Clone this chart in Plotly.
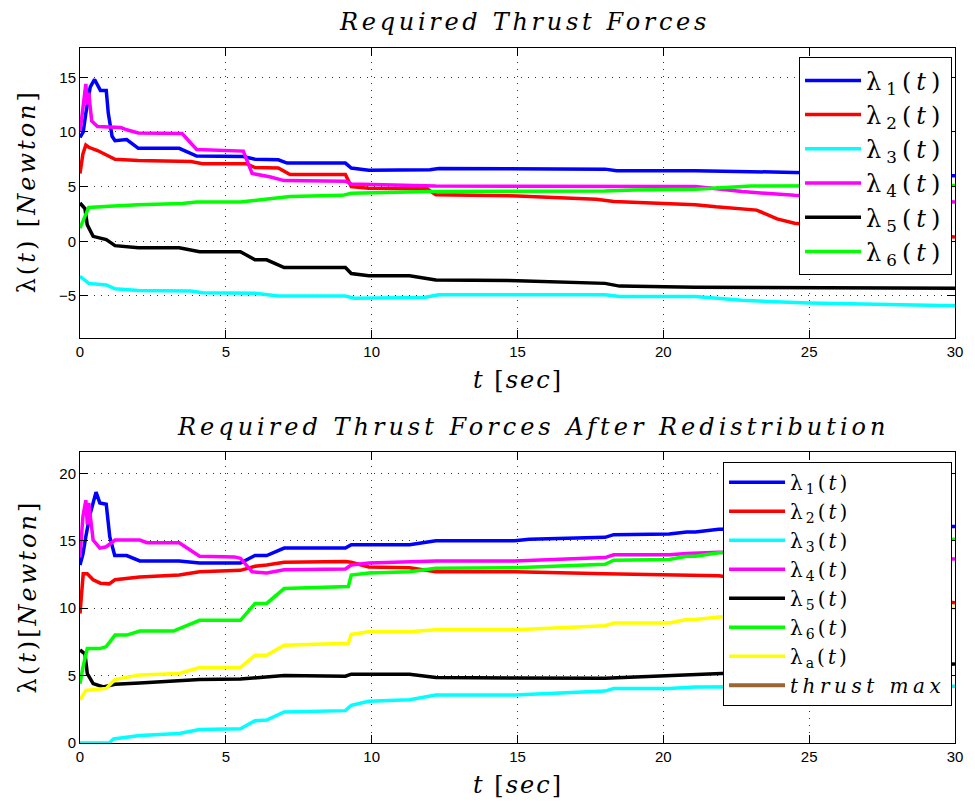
import plotly.graph_objects as go

# ---------------- data: top panel (Required Thrust Forces) ----------------
T1 = [0, 0.11, 0.2, 0.35, 0.5, 0.6, 0.7, 0.9, 0.97, 1.1, 1.2, 1.6, 2.0, 3.4, 4.0, 5.6, 6.0, 6.8, 7.1, 9.1, 9.3, 9.9, 12.0, 12.3, 18.0, 18.4, 21.1, 24.5, 30]
V1 = [9.5, 10.0, 11.7, 14.1, 14.8, 14.3, 13.8, 13.8, 11.7, 9.6, 9.2, 9.3, 8.5, 8.5, 7.8, 7.75, 7.5, 7.45, 7.15, 7.15, 6.7, 6.5, 6.55, 6.65, 6.6, 6.45, 6.45, 6.3, 6.0]

T2 = [0, 0.1, 0.2, 0.3, 0.6, 0.9, 1.2, 2.0, 3.8, 4.2, 5.7, 6.0, 6.8, 7.2, 9.1, 9.3, 9.9, 11.9, 12.2, 15.0, 17.7, 18.3, 20.2, 21.1, 21.8, 23.2, 23.9, 24.5, 27, 30]
V2 = [6.2, 8.0, 8.8, 8.6, 8.3, 7.9, 7.5, 7.4, 7.3, 7.1, 7.1, 6.75, 6.7, 6.1, 6.1, 5.0, 4.85, 4.8, 4.25, 4.15, 3.85, 3.65, 3.45, 3.35, 3.15, 2.85, 2.05, 1.65, 1.0, 0.4]

T3 = [0, 0.3, 0.9, 1.2, 2.0, 3.8, 4.2, 6.0, 6.8, 9.1, 9.4, 11.8, 12.3, 18.0, 18.5, 21.1, 22.7, 25.0, 30]
V3 = [-3.2, -3.85, -4.0, -4.35, -4.5, -4.55, -4.7, -4.75, -5.0, -5.0, -5.2, -5.15, -4.9, -4.9, -5.05, -5.05, -5.4, -5.65, -5.9]

T4 = [0, 0.08, 0.15, 0.2, 0.25, 0.3, 0.4, 0.6, 1.4, 1.6, 2.0, 3.5, 4.0, 5.6, 5.9, 6.5, 7.0, 9.1, 9.3, 12.2, 21.1, 22.7, 24.5, 30]
V4 = [10.0, 12.0, 13.5, 14.4, 12.5, 13.6, 11.0, 10.5, 10.4, 10.2, 9.9, 9.85, 8.4, 8.25, 6.2, 5.9, 5.55, 5.5, 5.25, 5.05, 5.0, 4.55, 4.2, 3.6]

T5 = [0, 0.17, 0.25, 0.45, 0.9, 1.2, 2.0, 3.4, 4.1, 5.5, 6.0, 6.4, 7.0, 9.1, 9.3, 9.9, 11.3, 12.2, 15.0, 18.0, 18.5, 21.1, 30]
V5 = [3.5, 3.0, 1.5, 0.45, 0.15, -0.4, -0.6, -0.6, -0.95, -0.95, -1.7, -1.7, -2.4, -2.4, -2.95, -3.15, -3.15, -3.55, -3.6, -3.85, -4.1, -4.2, -4.3]

T6 = [0, 0.3, 1.0, 2.0, 3.5, 4.0, 5.5, 6.5, 7.2, 9.0, 9.3, 12.0, 18.0, 19.0, 21.1, 23.0, 30]
V6 = [1.2, 3.1, 3.2, 3.35, 3.45, 3.6, 3.6, 3.9, 4.1, 4.2, 4.4, 4.55, 4.6, 4.7, 4.75, 5.05, 5.1]

# ---------------- data: bottom panel (After Redistribution) ----------------
B1t = [0, 0.1, 0.2, 0.35, 0.55, 0.68, 0.9, 1.02, 1.19, 1.6, 2.05, 3.4, 4.1, 5.5, 6.0, 6.4, 7.0, 9.1, 9.3, 11.3, 12.2, 14.9, 15.4, 18.0, 18.3, 20.2, 20.8, 21.1, 21.9, 30]
B1v = [13.2, 14.0, 15.3, 17.0, 18.6, 17.8, 17.7, 15.3, 13.9, 13.9, 13.5, 13.5, 13.35, 13.35, 13.9, 13.9, 14.45, 14.45, 14.7, 14.7, 15.0, 15.0, 15.1, 15.25, 15.45, 15.5, 15.65, 15.65, 15.85, 16.05]

B2t = [0, 0.11, 0.25, 0.45, 0.7, 1.0, 1.2, 2.05, 3.4, 4.1, 5.5, 6.0, 6.4, 7.0, 9.1, 9.3, 9.9, 11.3, 12.2, 14.9, 18.0, 20.2, 21.1, 21.9, 25.0, 30]
B2v = [9.6, 12.55, 12.55, 12.1, 11.85, 11.8, 12.1, 12.3, 12.45, 12.7, 12.8, 13.1, 13.2, 13.4, 13.45, 13.4, 13.05, 13.0, 12.7, 12.7, 12.55, 12.5, 12.45, 12.4, 11.5, 10.4]

B3t = [0, 1.0, 1.15, 2.05, 3.4, 4.1, 5.5, 6.0, 6.4, 7.0, 9.1, 9.3, 9.9, 11.3, 12.2, 14.9, 18.0, 18.3, 20.2, 20.8, 21.1, 30]
B3v = [0, 0, 0.3, 0.55, 0.7, 1.0, 1.05, 1.65, 1.7, 2.3, 2.4, 2.8, 3.1, 3.2, 3.55, 3.55, 3.85, 4.05, 4.05, 4.15, 4.15, 4.2]

B4t = [0, 0.1, 0.2, 0.25, 0.3, 0.45, 0.68, 0.9, 1.2, 2.05, 2.3, 3.4, 4.1, 5.3, 5.5, 5.9, 6.4, 7.0, 9.1, 9.3, 9.9, 11.3, 12.2, 14.9, 18.0, 18.3, 20.2, 20.8, 21.9, 30]
B4v = [13.8, 16.8, 18.0, 16.2, 17.8, 15.05, 14.45, 14.55, 15.05, 15.05, 14.85, 14.85, 13.85, 13.8, 13.7, 12.7, 12.6, 12.85, 12.9, 13.2, 13.35, 13.45, 13.5, 13.5, 13.75, 13.95, 13.95, 14.05, 14.15, 13.65]

B5t = [0, 0.17, 0.25, 0.45, 0.8, 1.2, 2.05, 3.4, 4.1, 5.5, 6.0, 7.0, 9.1, 9.3, 11.3, 12.2, 18.0, 20.2, 21.1, 21.9, 30]
B5v = [6.9, 6.6, 5.15, 4.4, 4.15, 4.35, 4.45, 4.6, 4.7, 4.75, 4.85, 5.0, 4.95, 5.1, 5.1, 4.85, 4.8, 5.0, 5.05, 5.15, 5.85]

B6t = [0, 0.1, 0.25, 0.68, 0.9, 1.2, 1.6, 2.05, 3.2, 4.1, 5.5, 6.0, 6.4, 7.0, 9.2, 9.3, 9.9, 11.3, 12.2, 14.9, 18.0, 18.3, 20.2, 20.8, 21.1, 21.9, 30]
B6v = [4.4, 5.6, 7.0, 7.0, 7.15, 8.0, 8.0, 8.3, 8.3, 9.1, 9.1, 10.35, 10.35, 11.45, 11.6, 12.45, 12.6, 12.7, 12.95, 13.0, 13.25, 13.55, 13.6, 13.85, 13.85, 14.1, 15.1]

B7t = [0, 0.2, 0.9, 1.2, 2.05, 3.4, 4.1, 5.5, 6.0, 6.4, 7.0, 9.2, 9.3, 9.9, 11.3, 12.2, 14.9, 18.0, 18.3, 20.2, 20.8, 21.1, 21.9, 30]
B7v = [3.2, 3.9, 4.05, 4.7, 5.05, 5.15, 5.6, 5.6, 6.5, 6.5, 7.25, 7.4, 8.05, 8.25, 8.25, 8.4, 8.4, 8.7, 8.9, 8.9, 9.15, 9.15, 9.35, 10.0]

TMAXt = [0, 30]
TMAXv = [25, 25]

x_ticks = [0, 5, 10, 15, 20, 25, 30]
top_yticks = [-5, 0, 5, 10, 15]
bot_yticks = [0, 5, 10, 15, 20]

names = ["1", "2", "3", "4", "5", "6", "a"]
colors = ["#0000ff", "#ff0000", "#00ffff", "#ff00ff", "#000000", "#00ff00", "#ffff00"]
brown = "#996633"

SERIF = "DejaVu Serif"
SANS = "Liberation Sans"


def sp(inner, ls):
    return f'<span style="letter-spacing:{ls}px">{inner}</span>'


def lam(s, ls):
    return sp(f'λ<sub>{s}</sub>(<i>t</i>)', ls)


fig = go.Figure()

top_series = [(T1, V1), (T2, V2), (T3, V3), (T4, V4), (T5, V5), (T6, V6)]
for i, (t, v) in enumerate(top_series):
    fig.add_trace(go.Scatter(x=t, y=v, mode="lines", xaxis="x", yaxis="y",
                             line=dict(color=colors[i], width=3.5),
                             name=lam(names[i], 5), legend="legend"))

bot_series = [(B1t, B1v), (B2t, B2v), (B3t, B3v), (B4t, B4v), (B5t, B5v), (B6t, B6v), (B7t, B7v)]
for i, (t, v) in enumerate(bot_series):
    fig.add_trace(go.Scatter(x=t, y=v, mode="lines", xaxis="x2", yaxis="y2",
                             line=dict(color=colors[i], width=3.5),
                             name=lam(names[i], 3), legend="legend2"))
fig.add_trace(go.Scatter(x=TMAXt, y=TMAXv, mode="lines", xaxis="x2", yaxis="y2",
                         line=dict(color=brown, width=4),
                         name=sp('<i>thrust max</i>', 4.5),
                         legend="legend2"))

axis_common = dict(showline=True, linecolor="black", linewidth=1, mirror="allticks",
                   ticks="inside", ticklen=8, tickcolor="black", tickwidth=1,
                   showgrid=True, gridcolor="#333333", gridwidth=1, griddash="1px,6px",
                   zeroline=False, tickfont=dict(family=SANS, size=15, color="black"))

fig.update_layout(
    width=975, height=809,
    margin=dict(l=80, r=14, t=48, b=66),
    paper_bgcolor="white", plot_bgcolor="white",
    font=dict(family=SERIF),
    xaxis=dict(domain=[0, 1], anchor="y", range=[0, 30], tickvals=x_ticks, **axis_common),
    yaxis=dict(domain=[0.583, 1.0], anchor="x", range=[-8.83, 17.68], tickvals=top_yticks, **axis_common),
    xaxis2=dict(domain=[0, 1], anchor="y2", range=[0, 30], tickvals=x_ticks, **axis_common),
    yaxis2=dict(domain=[0, 0.418], anchor="x2", range=[0, 21.54], tickvals=bot_yticks, **axis_common),
    legend=dict(x=0.9966, y=0.9866, xanchor="right", yanchor="top",
                bgcolor="white", bordercolor="black", borderwidth=1,
                font=dict(family=SERIF, size=24, color="black"), itemwidth=56,
                tracegroupgap=0),
    legend2=dict(x=0.9966, y=0.4047, xanchor="right", yanchor="top",
                 bgcolor="white", bordercolor="black", borderwidth=1,
                 font=dict(family=SERIF, size=20, color="black"), itemwidth=56,
                 tracegroupgap=0),
    showlegend=True,
)

ann_font = dict(family=SERIF, size=24, color="black")
annots = [
    dict(text=sp('<i>Required Thrust Forces</i>', 3.7),
         x=0.508, y=1.0374, xanchor="center", yanchor="middle"),
    dict(text=sp('<i>Required Thrust Forces After Redistribution</i>', 4),
         x=0.5176, y=0.4547, xanchor="center", yanchor="middle"),
    dict(text=sp('<i>t</i> [<i>sec</i>]', 2),
         x=0.5, y=0.5223, xanchor="center", yanchor="middle"),
    dict(text=sp('<i>t</i> [<i>sec</i>]', 2),
         x=0.5, y=-0.0604, xanchor="center", yanchor="middle"),
    dict(text=sp('λ(<i>t</i>) [<i>Newton</i>]', 3),
         x=-0.0602, y=0.7942, xanchor="center", yanchor="middle", textangle=-90),
    dict(text=sp('λ(<i>t</i>)[<i>Newton</i>]', 3),
         x=-0.059, y=0.2115, xanchor="center", yanchor="middle", textangle=-90),
]
for a in annots:
    fig.add_annotation(xref="paper", yref="paper", showarrow=False, font=ann_font, **a)

fig.write_html("out.html")
